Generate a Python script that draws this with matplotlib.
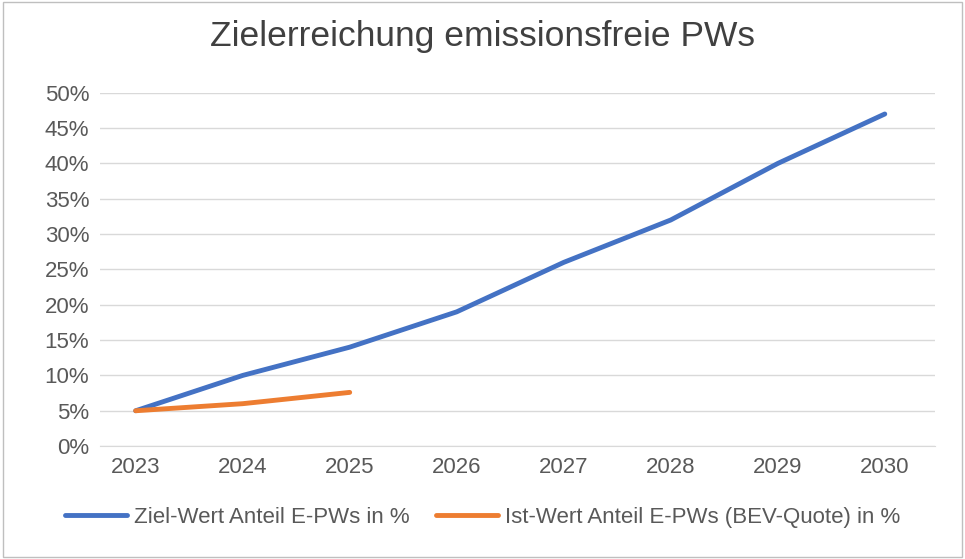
import matplotlib.pyplot as plt
from matplotlib.ticker import PercentFormatter

plt.rcParams["font.family"] = ["Liberation Sans", "DejaVu Sans"]

years = ["2023", "2024", "2025", "2026", "2027", "2028", "2029", "2030"]
ziel = [5, 10, 14, 19, 26, 32, 40, 47]
ist = [5, 6, 7.6]

fig = plt.figure(figsize=(9.65, 5.59), dpi=100)
ax = fig.add_axes([0.104, 0.202, 0.865, 0.632])

ax.plot(range(len(ziel)), ziel, color="#4472C4", lw=3.5, solid_capstyle="round",
        label="Ziel-Wert Anteil E-PWs in %")
ax.plot(range(len(ist)), ist, color="#ED7D31", lw=3.5, solid_capstyle="round",
        label="Ist-Wert Anteil E-PWs (BEV-Quote) in %")

ax.set_ylim(0, 50)
ax.set_yticks(range(0, 51, 5))
ax.yaxis.set_major_formatter(PercentFormatter(decimals=0))
ax.set_xlim(-0.33, 7.47)
ax.set_xticks(range(len(years)))
ax.set_xticklabels(years)
ax.grid(axis="y", color="#D9D9D9", lw=1)
ax.set_axisbelow(True)
for s in ["top", "right", "left"]:
    ax.spines[s].set_visible(False)
ax.spines["bottom"].set_color("#D9D9D9")
ax.tick_params(length=0, labelsize=16, colors="#595959", pad=8)

fig.suptitle("Zielerreichung emissionsfreie PWs", y=0.965, fontsize=25.5, color="#404040")
fig.legend(loc="lower center", bbox_to_anchor=(0.5, 0.02), ncol=2, frameon=False,
           fontsize=16, labelcolor="#595959", handlelength=2.8, handletextpad=0.3,
           columnspacing=1.2)

border = plt.Rectangle((0.003, 0.004), 0.994, 0.992, transform=fig.transFigure,
                       fill=False, edgecolor="#BFBFBF", lw=1)
fig.patches.append(border)

fig.savefig("out.png", dpi=100)
